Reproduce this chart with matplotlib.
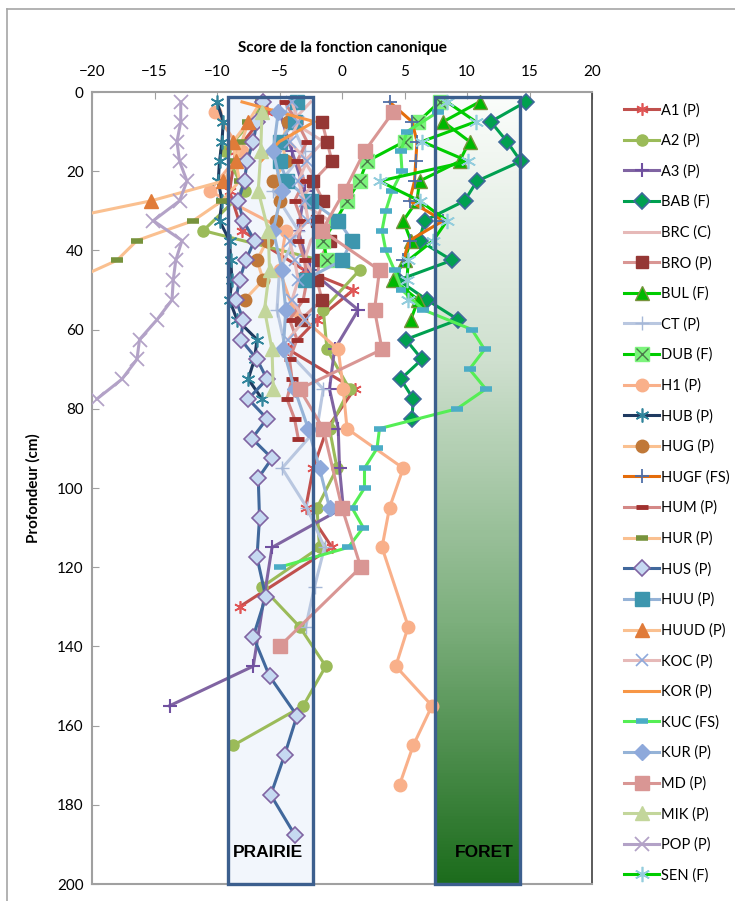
import matplotlib
matplotlib.use('Agg')
import matplotlib.pyplot as plt
import numpy as np
from matplotlib.colors import LinearSegmentedColormap
from matplotlib.patches import Rectangle
from matplotlib.lines import Line2D
from matplotlib.legend_handler import HandlerTuple

plt.rcParams['font.family'] = ['Lato', 'DejaVu Sans']

# ---------------- data (depth in cm, canonical score) ----------------
A1_depth = [5, 15, 25, 35, 45, 50, 57.5, 65, 75, 85, 95, 105, 115, 130]
A1_score = [-6.0, -8.5, -9.0, -8.0, -3.0, 0.9, -2.0, -4.3, 1.0, -1.2, -2.3, -2.9, -0.8, -8.2]

A2_depth = [5, 15, 25, 35, 45, 55, 65, 75, 85, 95, 105, 115, 125, 135, 145, 155, 165]
A2_score = [-6.5, -9.4, -7.8, -11.1, 1.4, -1.5, -1.2, 0.6, -1.0, -0.4, -2.0, -1.8, -6.4, -3.4, -1.3, -3.1, -8.7]

A3_depth = [5, 15, 25, 35, 45, 55, 65, 75, 85, 95, 105, 115, 145, 155]
A3_score = [-5.0, -4.0, -3.0, -3.5, -2.6, 1.3, -0.6, -1.0, -0.3, -0.2, 0.1, -5.6, -7.1, -13.8]

BAB_depth = [2.5, 7.5, 12.5, 17.5, 22.5, 27.5, 32.5, 37.5, 42.5, 47.5, 52.5, 57.5, 62.5, 67.5, 72.5, 77.5, 82.5]
BAB_score = [14.7, 11.9, 13.2, 14.3, 10.8, 9.8, 6.6, 6.2, 8.8, 4.5, 6.8, 9.3, 5.1, 6.4, 4.7, 5.7, 5.6]

BRC_depth = [2.5, 7.5, 12.5, 17.5, 22.5, 27.5, 32.5, 37.5, 42.5, 47.5]
BRC_score = [-2.5, -4.0, -1.5, -3.0, -2.0, -3.5, -1.0, -2.5, -3.0, -2.0]

BRO_depth = [7.5, 12.5, 17.5, 22.5, 27.5, 32.5, 37.5, 42.5, 47.5, 52.5, 57.5]
BRO_score = [-1.6, -1.2, -0.8, -2.3, -1.5, -2.0, -1.0, -1.8, -2.0, -1.6, -3.3]

BUL_depth = [2.5, 7.5, 12.5, 17.5, 22.5, 27.5, 32.5, 37.5, 42.5, 47.5, 52.5, 57.5]
BUL_score = [11.0, 8.1, 10.2, 9.4, 6.2, 6.0, 4.9, 5.5, 5.0, 4.1, 6.1, 5.5]

CT_depth = [5, 15, 25, 35, 45, 55, 65, 75, 85, 95, 105, 115, 125, 135]
CT_score = [-4.5, -3.0, -5.5, -3.5, -5.0, -5.2, -4.5, -1.5, -2.0, -4.8, -2.8, -1.4, -2.2, -2.9]

DUB_depth = [2.5, 7.5, 12.5, 17.5, 22.5, 27.5, 32.5, 37.5, 42.5]
DUB_score = [7.8, 6.1, 5.0, 2.0, 1.4, 0.4, -0.5, -1.5, -1.2]

H1_depth = [5, 15, 25, 35, 45, 55, 65, 75, 85, 95, 105, 115, 135, 145, 155, 165, 175]
H1_score = [-10.2, -8.0, -10.6, -4.5, -5.0, -3.9, -0.3, 0.1, 0.4, 4.9, 3.8, 3.2, 5.3, 4.3, 7.2, 5.7, 4.6]

HUB_depth = [2.5, 7.5, 12.5, 17.5, 22.5, 27.5, 32.5, 37.5, 42.5, 47.5, 52.5, 57.5, 62.5, 67.5, 72.5, 77.5]
HUB_score = [-10.0, -9.5, -9.6, -9.8, -9.9, -9.6, -9.8, -9.0, -8.9, -8.8, -9.0, -8.4, -6.8, -7.0, -7.5, -6.4]

HUG_depth = [7.5, 12.5, 17.5, 22.5, 27.5, 32.5, 37.5, 42.5, 47.5, 52.5]
HUG_score = [-4.3, -4.8, -4.5, -5.5, -5.0, -5.3, -6.0, -6.8, -6.3, -7.8]

HUGF_depth = [2.5, 7.5, 12.5, 17.5, 22.5, 27.5, 32.5, 37.5, 42.5]
HUGF_score = [3.8, 5.6, 6.0, 5.9, 5.8, 5.4, 8.1, 5.4, 4.9]

HUM_depth = [2.5, 7.5, 12.5, 17.5, 22.5, 27.5, 32.5, 37.5, 42.5, 47.5, 52.5, 57.5, 62.5, 67.5, 72.5, 77.5, 82.5, 87.5]
HUM_score = [-4.6, -3.6, -2.8, -3.6, -3.0, -3.8, -3.2, -3.5, -3.0, -2.8, -3.1, -4.2, -3.6, -4.2, -4.0, -4.4, -3.8, -3.5]

HUR_depth = [2.5, 7.5, 12.5, 17.5, 22.5, 27.5, 32.5, 37.5, 42.5, 47.5]
HUR_score = [-6.5, -7.5, -8.0, -8.5, -8.2, -9.6, -11.9, -16.4, -18.0, -21.5]

HUS_depth = [2.5, 7.5, 12.5, 17.5, 22.5, 27.5, 32.5, 37.5, 42.5, 47.5, 52.5, 57.5, 62.5, 67.5, 72.5,
             77.5, 82.5, 87.5, 92.5, 97.5, 107.5, 117.5, 127.5, 137.5, 147.5, 157.5, 167.5, 177.5, 187.5]
HUS_score = [-6.3, -6.8, -7.1, -7.6, -7.8, -8.3, -7.9, -7.0, -7.7, -8.2, -8.5, -7.9, -8.1, -6.8, -6.0,
             -7.5, -6.0, -7.2, -5.6, -6.7, -6.6, -6.8, -6.1, -7.1, -5.8, -3.6, -4.6, -5.7, -3.8]

HUU_depth = [2.5, 7.5, 12.5, 17.5, 22.5, 27.5, 32.5, 37.5, 42.5, 47.5]
HUU_score = [-3.6, -3.8, -5.0, -5.0, -4.4, -2.5, -0.3, 0.8, 0.0, -3.0]

HUUD_depth = [7.5, 12.5, 17.5, 22.5, 27.5, 32.5]
HUUD_score = [-7.5, -8.7, -8.5, -9.5, -15.3, -23.0]

KOC_depth = [2.5, 7.5, 12.5, 17.5, 22.5, 27.5, 32.5, 37.5, 42.5, 47.5, 52.5, 57.5, 62.5]
KOC_score = [-4.0, -3.5, -4.2, -2.8, -3.5, -3.0, -2.7, -4.2, -3.8, -3.5, -4.0, -3.0, -4.3]

KOR_depth = [2.5, 7.5, 12.5, 17.5]
KOR_score = [-8.0, -2.2, -5.0, -6.5]

KUC_depth = [5, 10, 15, 20, 25, 30, 35, 40, 45, 50, 55, 60, 65, 70, 75, 80, 85, 90, 95, 100, 105, 110, 115, 120]
KUC_score = [7.7, 5.2, 4.7, 4.8, 4.0, 3.5, 3.2, 3.5, 4.2, 4.8, 6.5, 10.4, 11.4, 10.2, 11.5, 9.2,
             3.0, 2.8, 1.8, 1.8, 0.8, 1.7, 0.5, -5.0]

KUR_depth = [5, 15, 25, 35, 45, 55, 65, 75, 85, 95, 105]
KUR_score = [-5.1, -5.5, -4.8, -5.5, -4.8, -4.5, -4.7, -3.8, -2.7, -1.8, -1.0]

MD_depth = [5, 15, 25, 35, 45, 55, 65, 75, 85, 105, 120, 140]
MD_score = [4.1, 1.8, 0.2, -1.6, 3.0, 2.6, 3.2, -3.4, -1.5, 0.0, 1.5, -5.0]

MIK_depth = [5, 15, 25, 35, 45, 55, 65, 75]
MIK_score = [-6.4, -6.5, -6.7, -5.9, -5.8, -6.2, -5.6, -5.5]

POP_depth = [2.5, 7.5, 12.5, 17.5, 22.5, 27.5, 32.5, 37.5, 42.5, 47.5, 52.5, 57.5, 62.5, 67.5, 72.5, 77.5]
POP_score = [-12.9, -12.9, -13.2, -13.0, -12.4, -13.0, -15.1, -12.8, -13.3, -13.5, -13.6, -14.8, -16.2, -16.4, -17.6, -19.6]

SEN_depth = [2.5, 7.5, 12.5, 17.5, 22.5, 27.5, 32.5, 37.5, 42.5, 47.5, 52.5]
SEN_score = [8.4, 10.7, 6.4, 10.1, 3.0, 6.2, 8.4, 7.3, 5.3, 5.2, 5.3]

x_ticks = [-20, -15, -10, -5, 0, 5, 10, 15, 20]
y_ticks = [0, 20, 40, 60, 80, 100, 120, 140, 160, 180, 200]
zones = ['PRAIRIE', 'FORET']
zone_x = [(-9.1, -2.3), (7.4, 14.2)]

# ---------------- figure ----------------
W, H = 735, 901
fig = plt.figure(figsize=(W / 100, H / 100), dpi=100)
ax = fig.add_axes([92 / W, 1 - 884 / H, 500 / W, 792 / H])

ast = (6, 2, 0)
LW = 2.2
series = [
    ('A1 (P)', A1_score, A1_depth, dict(color='#C0504D', marker=ast, ms=9, mec='#E05555', mew=1.2)),
    ('A2 (P)', A2_score, A2_depth, dict(color='#9BBB59', marker='o', ms=8, mfc='#9BBB59', mec='#9BBB59')),
    ('A3 (P)', A3_score, A3_depth, dict(color='#8064A2', marker='+', ms=10, mec='#7050A0', mew=1.5)),
    ('BAB (F)', BAB_score, BAB_depth, dict(color='#00A050', marker='D', ms=8, mfc='#00A050', mec='#3E6A9A', mew=1.2)),
    ('BRC (C)', BRC_score, BRC_depth, dict(color='#E6B9B8', marker='None')),
    ('BRO (P)', BRO_score, BRO_depth, dict(color='#D99694', marker='s', ms=9, mfc='#953735', mec='#953735')),
    ('BUL (F)', BUL_score, BUL_depth, dict(color='#00CC00', marker='^', ms=10, mfc='#00B800', mec='#77933C', mew=1)),
    ('CT (P)', CT_score, CT_depth, dict(color='#B9C7E0', marker='+', ms=10, mec='#A6B8D8', mew=1)),
    ('DUB (F)', DUB_score, DUB_depth, dict(color='#00CC00', marker='s', ms=10, mfc='#7CF47C', mec='#7CF47C')),
    ('H1 (P)', H1_score, H1_depth, dict(color='#F9B08A', marker='o', ms=9, mfc='#F9B08A', mec='#F9B08A')),
    ('HUB (P)', HUB_score, HUB_depth, dict(color='#1F3A60', marker=ast, ms=10, mec='#31859C', mew=1.2)),
    ('HUG (P)', HUG_score, HUG_depth, dict(color='#FAC090', marker='o', ms=9, mfc='#C07838', mec='#C07838')),
    ('HUGF (FS)', HUGF_score, HUGF_depth, dict(color='#E46C0A', marker='+', ms=10, mec='#4F6FA8', mew=1.3)),
    ('HUM (P)', HUM_score, HUM_depth, dict(color='#D48886', marker='_', ms=8, mec='#A0302E', mew=3.5)),
    ('HUR (P)', HUR_score, HUR_depth, dict(color='#FAC090', marker='_', ms=9, mec='#77933C', mew=4)),
    ('HUS (P)', HUS_score, HUS_depth, dict(color='#41689C', marker='D', ms=8.5, mfc='#C6D9F1', mec='#8064A2', mew=1.2)),
    ('HUU (P)', HUU_score, HUU_depth, dict(color='#95B3D7', marker='s', ms=10, mfc='#3D96AE', mec='#3D96AE')),
    ('HUUD (P)', HUUD_score, HUUD_depth, dict(color='#FAC090', marker='^', ms=10, mfc='#E07B39', mec='#E07B39')),
    ('KOC (P)', KOC_score, KOC_depth, dict(color='#E6B9B8', marker='x', ms=9, mec='#8EA9DB', mew=1.2)),
    ('KOR (P)', KOR_score, KOR_depth, dict(color='#F79646', marker='None')),
    ('KUC (FS)', KUC_score, KUC_depth, dict(color='#55EE55', marker='_', ms=8, mec='#4BACC6', mew=4)),
    ('KUR (P)', KUR_score, KUR_depth, dict(color='#95B3D7', marker='D', ms=8, mfc='#8EA9DB', mec='#8EA9DB')),
    ('MD (P)', MD_score, MD_depth, dict(color='#D99694', marker='s', ms=10, mfc='#D99694', mec='#D99694')),
    ('MIK (P)', MIK_score, MIK_depth, dict(color='#C3D69B', marker='^', ms=10, mfc='#C3D69B', mec='#C3D69B')),
    ('POP (P)', POP_score, POP_depth, dict(color='#B3A2C7', marker='x', ms=10, mec='#B3A2C7', mew=1.3)),
    ('SEN (F)', SEN_score, SEN_depth, dict(color='#00CC00', marker=ast, ms=11, mec='#93CDDD', mew=1.2)),
]

handles = []
labels = []
for name, xs, ys, st in series:
    ln, = ax.plot(xs, ys, lw=LW, zorder=3, **st)
    if name.startswith('DUB'):
        xx, = ax.plot(xs, ys, ls='None', marker='x', ms=8, mec='#4A7A4A', mew=1.0, zorder=3)
        handles.append((ln, xx))
    else:
        handles.append(ln)
    labels.append(name)

# zones
cmap = LinearSegmentedColormap.from_list('forest', ['#FBFDFB', '#CFE0CF', '#7DAF7D', '#1C6C1C'])
grad = np.linspace(0, 1, 256).reshape(-1, 1)
ax.imshow(grad, cmap=cmap, extent=[zone_x[1][0], zone_x[1][1], 200, 1.3], origin='upper',
          aspect='auto', zorder=1)
ax.add_patch(Rectangle((zone_x[0][0], 1.3), zone_x[0][1] - zone_x[0][0], 198.7,
                       facecolor='#F2F6FC', edgecolor='none', zorder=1))
for (x0, x1) in zone_x:
    ax.add_patch(Rectangle((x0, 1.3), x1 - x0, 198.7, facecolor='none',
                           edgecolor='#3C5F8E', lw=2.4, zorder=6, clip_on=False))
ax.text(-5.9, 192, zones[0], ha='center', va='center', fontsize=12.5, fontweight='bold',
        family='Liberation Sans', zorder=7)
ax.text(11.4, 192, zones[1], ha='center', va='center', fontsize=12.5, fontweight='bold',
        family='Liberation Sans', zorder=7)

ax.set_xlim(-20, 20)
ax.set_ylim(200, 0)
ax.xaxis.tick_top()
ax.set_xticks(x_ticks)
ax.set_yticks(y_ticks)
ax.tick_params(axis='both', direction='in', length=5, color='#A0A0A0', labelsize=11, pad=6)
ax.tick_params(axis='x', pad=9)
ax.xaxis.set_label_position('top')
ax.set_xlabel('Score de la fonction canonique', fontsize=11, fontweight='bold', labelpad=10)
ax.set_ylabel('Profondeur (cm)', fontsize=11, fontweight='bold', labelpad=12)
for s in ['top', 'left', 'bottom']:
    ax.spines[s].set_color('#A0A0A0')
    ax.spines[s].set_linewidth(1.5)
ax.spines['right'].set_color('#404040')
ax.spines['right'].set_linewidth(1.2)

leg = fig.legend(handles, labels, loc='upper left', bbox_to_anchor=(624 / W, 1 - 103 / H),
                 frameon=False, fontsize=10.5, handlelength=2.4, handletextpad=0.15,
                 labelspacing=1.115, borderpad=0, borderaxespad=0,
                 handler_map={tuple: HandlerTuple(ndivide=1)})

# outer chart border
fig.add_artist(Line2D([7 / W, 7 / W], [0, 1 - 9 / H], transform=fig.transFigure, color='#A6A6A6', lw=1.2))
fig.add_artist(Line2D([7 / W, 1], [1 - 9 / H, 1 - 9 / H], transform=fig.transFigure, color='#A6A6A6', lw=1.2))

fig.savefig('out.png', dpi=100)
